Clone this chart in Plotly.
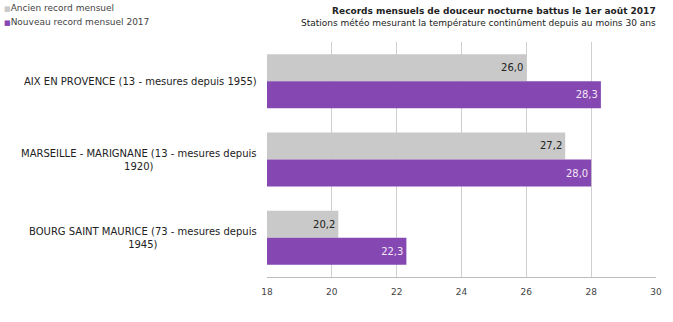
import plotly.graph_objects as go

categories = [
    "AIX EN PROVENCE (13 - mesures depuis 1955)",
    "MARSEILLE - MARIGNANE (13 - mesures depuis<br>1920)",
    "BOURG SAINT MAURICE (73 - mesures depuis<br>1945)",
]
ancien = [26.0, 27.2, 20.2]
nouveau = [28.3, 28.0, 22.3]
series_names = ["Ancien record mensuel", "Nouveau record mensuel 2017"]
x_ticks = [18, 20, 22, 24, 26, 28, 30]

FONT = "DejaVu Sans"
GRAY = "#c9c9c9"
PURPLE = "#8547b2"
colors = [GRAY, PURPLE]
TOP = 42

fig = go.Figure()
fig.add_trace(go.Bar(
    y=categories, x=ancien, orientation="h", name=series_names[0],
    marker=dict(color=GRAY, line=dict(width=0)),
    texttemplate="%{x:.1f}", textposition="inside",
    insidetextanchor="end", textfont=dict(color="#222222", size=10, family=FONT),
))
fig.add_trace(go.Bar(
    y=categories, x=nouveau, orientation="h", name=series_names[1],
    marker=dict(color=PURPLE, line=dict(width=0)),
    texttemplate="%{x:.1f}", textposition="inside",
    insidetextanchor="end", textfont=dict(color="#f4e6f6", size=10, family=FONT),
))

annotations = []
for c in categories:
    annotations.append(dict(
        text=c, xref="paper", x=0, xanchor="right", xshift=-8,
        yref="y", y=c, yanchor="middle", align="center", showarrow=False,
        font=dict(family=FONT, size=10, color="#222222"),
    ))
for i, (name, col) in enumerate(zip(series_names, colors)):
    annotations.append(dict(
        text=f"<span style='color:{col};font-size:7px'>■</span>{name}",
        xref="paper", x=0, xanchor="left", xshift=-265,
        yref="paper", y=1, yanchor="top", yshift=TOP - 1 - 14 * i,
        showarrow=False, align="left",
        font=dict(family=FONT, size=9, color="#444444"),
    ))
annotations.append(dict(
    text="<b>Records mensuels de douceur nocturne battus le 1er août 2017</b><br>"
         "Stations météo mesurant la température continûment depuis au moins 30 ans",
    xref="paper", x=1, xanchor="right", xshift=2,
    yref="paper", y=1, yanchor="top", yshift=TOP - 4,
    align="right", showarrow=False,
    font=dict(family=FONT, size=9, color="#222222"),
))

fig.update_layout(
    width=673, height=322,
    margin=dict(l=267, r=17, t=TOP, b=45, autoexpand=False),
    paper_bgcolor="white", plot_bgcolor="white",
    separators=", ",
    barmode="group", bargap=0.31, bargroupgap=0.0,
    font=dict(family=FONT, size=10, color="#222222"),
    showlegend=False,
    annotations=annotations,
    xaxis=dict(
        range=[18, 30], tickvals=x_ticks, showgrid=True, gridcolor="#cfcfcf",
        gridwidth=1, zeroline=False, showline=True, linecolor="#bdbdbd",
        linewidth=1, ticks="", tickfont=dict(size=9, color="#444444"),
        ticklabelstandoff=6, automargin=False,
    ),
    yaxis=dict(
        autorange="reversed", showgrid=False, zeroline=False, ticks="",
        showticklabels=False, automargin=False,
    ),
)

fig.write_html("out.html")
